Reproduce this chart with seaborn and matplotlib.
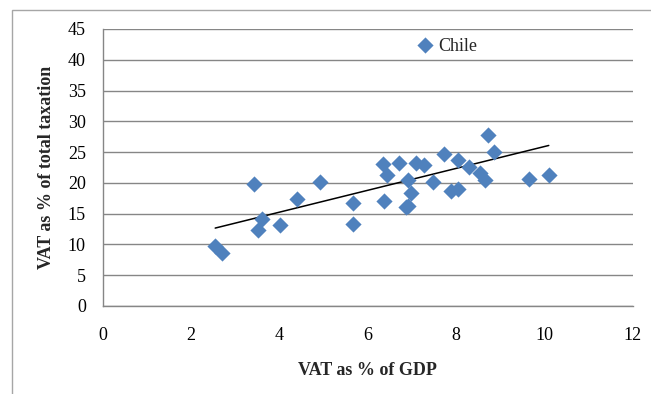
import matplotlib
matplotlib.use("Agg")
import matplotlib.pyplot as plt
import matplotlib.patches as mpatches
import numpy as np
import pandas as pd
import seaborn as sns

# VAT revenue as a share of GDP and as a share of total taxation, by country
vat_gdp = [2.55, 2.70, 3.43, 3.53, 3.60, 4.02, 4.40, 4.92, 5.68, 5.68,
           6.34, 6.43, 6.37, 6.72, 6.92, 6.87, 6.92, 6.98, 7.10, 7.28,
           7.49, 7.72, 7.89, 8.05, 8.04, 8.30, 8.54, 8.66, 8.72, 8.85,
           9.65, 10.10]
vat_tax = [9.75, 8.55, 19.8, 12.35, 14.1, 13.1, 17.4, 20.1, 16.8, 13.3,
           23.07, 21.3, 17.06, 23.2, 20.5, 16.0, 16.3, 18.4, 23.2, 22.96,
           20.2, 24.7, 18.7, 19.06, 23.7, 22.5, 21.6, 20.4, 27.7, 24.97,
           20.7, 21.3]

# Outlier shown with its name
chile_label = "Chile"
chile_gdp = 7.30
chile_tax = 42.4

x_ticks = [0, 2, 4, 6, 8, 10, 12]
y_ticks = [0, 5, 10, 15, 20, 25, 30, 35, 40, 45]
x_title = "VAT as % of GDP"
y_title = "VAT as % of total taxation"

df = pd.DataFrame({"gdp": vat_gdp + [chile_gdp], "tax": vat_tax + [chile_tax]})

sns.set_theme(style="white")
plt.rcParams["font.family"] = ["Liberation Serif", "DejaVu Serif"]

blue = "#4F81BD"
grid_gray = "#868686"

fig = plt.figure(figsize=(6.51, 3.94), dpi=100)
ax = fig.add_axes([0.1575, 0.2234, 0.9719 - 0.1575, 0.9264 - 0.2234])

# outer chart frame
fig.patches.append(mpatches.Rectangle((12 / 651, -0.1), 1.2, 1 - 10 / 394 + 0.1,
                                      transform=fig.transFigure, fill=False,
                                      edgecolor="#A6A6A6", linewidth=1.0))

# linear trend over all countries
sns.regplot(data=df, x="gdp", y="tax", ax=ax, scatter=False, ci=None,
            truncate=True, line_kws={"color": "black", "linewidth": 1.1})
sns.scatterplot(data=df, x="gdp", y="tax", ax=ax, marker="D", s=68,
                color=blue, edgecolor=blue, linewidth=0, zorder=3)

ax.annotate(chile_label, (chile_gdp, chile_tax), xytext=(9.5, -1),
            textcoords="offset points", va="center", ha="left", fontsize=13)

ax.set_xlim(0, 12)
ax.set_ylim(0, 45)
ax.set_xticks(x_ticks)
ax.set_yticks(y_ticks)
ax.set_xticklabels([str(t) for t in x_ticks])
ax.set_yticklabels([str(t) for t in y_ticks])
ax.yaxis.grid(True, color=grid_gray, linewidth=1.0)
ax.set_axisbelow(True)

for side in ("top", "right"):
    ax.spines[side].set_visible(False)
for side in ("left", "bottom"):
    ax.spines[side].set_color(grid_gray)
    ax.spines[side].set_linewidth(1.0)

ax.tick_params(axis="both", which="major", direction="out", length=4,
               width=1.0, color=grid_gray, labelsize=13, labelcolor="black")
ax.tick_params(axis="y", pad=8)
ax.tick_params(axis="x", pad=11)

ax.set_xlabel(x_title, fontsize=13, fontweight="bold", labelpad=13)
ax.set_ylabel(y_title, fontsize=13, fontweight="bold", labelpad=9)

fig.savefig("out.png", dpi=100)
